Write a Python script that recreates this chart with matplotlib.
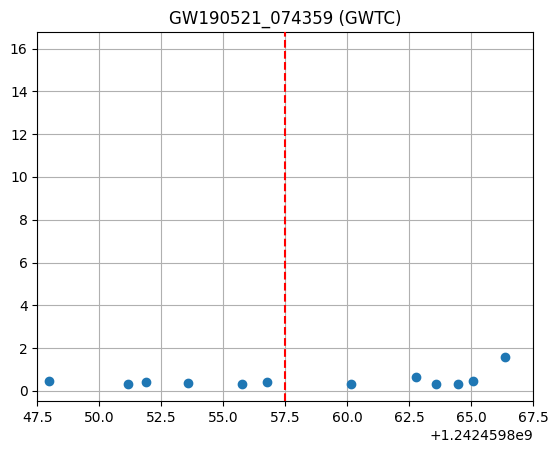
import matplotlib
matplotlib.use("Agg")
import matplotlib.pyplot as plt
import numpy as np

title = "GW190521_074359 (GWTC)"
event_time = 1242459857.5
offset = 1242459800.0
times_rel = [47.97, 51.17, 51.90, 53.59, 55.76, 56.77, 60.16, 62.78, 63.60, 64.47, 65.08, 66.36]
values = [0.47, 0.33, 0.41, 0.36, 0.33, 0.41, 0.33, 0.64, 0.33, 0.33, 0.45, 1.57]

times = np.array(times_rel) + offset

fig = plt.figure(figsize=(5.58, 4.53), dpi=100)
ax = fig.add_axes([37.3/558, 1 - 401/453, (533 - 37.3)/558, (401 - 32.3)/453])
ax.scatter(times, values, color="#1f77b4", zorder=3)
ax.axvline(event_time, color="red", linestyle="--", zorder=4)
ax.set_xlim(offset + 47.5, offset + 67.5)
ax.set_ylim(-0.47, 16.76)
ax.set_xticks(offset + np.arange(47.5, 67.6, 2.5))
ax.set_yticks(np.arange(0, 17, 2))
ax.grid(True, color="#b0b0b0")
ax.set_axisbelow(True)
ax.set_title(title)
fig.savefig("out.png", dpi=100)
